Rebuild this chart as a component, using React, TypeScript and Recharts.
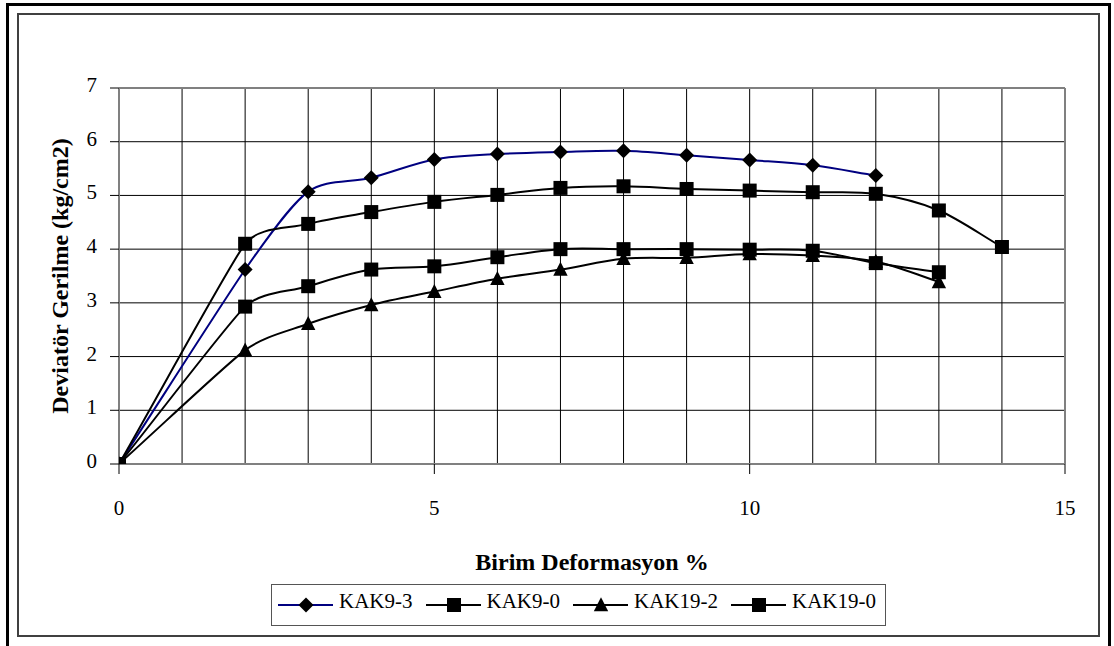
import React from 'react';
import { LineChart, Line, XAxis, YAxis, CartesianGrid, ReferenceLine, Label } from 'recharts';

// ---- data ----
const strain = [0, 2, 3, 4, 5, 6, 7, 8, 9, 10, 11, 12, 13, 14];
const kak9_3 = [0, 3.62, 5.07, 5.33, 5.67, 5.77, 5.81, 5.83, 5.75, 5.66, 5.56, 5.37, null, null];
const kak9_0 = [0, 4.1, 4.47, 4.69, 4.88, 5.01, 5.14, 5.17, 5.12, 5.09, 5.06, 5.03, 4.72, 4.04];
const kak19_2 = [0, 2.12, 2.61, 2.96, 3.21, 3.45, 3.62, 3.82, 3.84, 3.91, 3.88, 3.77, 3.39, null];
const kak19_0 = [0, 2.93, 3.31, 3.62, 3.68, 3.85, 4.0, 4.0, 4.0, 3.99, 3.97, 3.74, 3.57, null];

const seriesNames = ['KAK9-3', 'KAK9-0', 'KAK19-2', 'KAK19-0'];
const seriesColors = ['#000080', '#000000', '#000000', '#000000'];
const seriesShapes = ['diamond', 'square', 'triangle', 'square'];
const seriesValues = [kak9_3, kak9_0, kak19_2, kak19_0];

const xTicks = [0, 5, 10, 15];
const yTicks = [0, 1, 2, 3, 4, 5, 6, 7];
const xGrid = [1, 2, 3, 4, 5, 6, 7, 8, 9, 10, 11, 12, 13, 14];
const xTitle = 'Birim Deformasyon %';
const yTitle = 'Deviatör Gerilme (kg/cm2)';

const FONT = '"Liberation Serif", "DejaVu Serif", "Times New Roman", serif';

const data = strain.map((x, i) => {
  const row: any = { x };
  seriesValues.forEach((vals, s) => {
    row['s' + s] = vals[i];
  });
  return row;
});

// Excel-like smoothed line: Bezier segments, tangent direction from neighbours,
// control-arm length limited by the shorter of the two chords meeting at a point.
function excelSmooth(context: any) {
  let pts: number[][] = [];
  const unit = (dx: number, dy: number) => {
    const l = Math.hypot(dx, dy);
    return l > 0 ? [dx / l, dy / l] : [0, 0];
  };
  const dist = (a: number[], b: number[]) => Math.hypot(b[0] - a[0], b[1] - a[1]);
  return {
    areaStart() {},
    areaEnd() {},
    lineStart() {
      pts = [];
    },
    lineEnd() {
      const n = pts.length;
      if (n === 0) return;
      context.moveTo(pts[0][0], pts[0][1]);
      for (let i = 0; i < n - 1; i++) {
        const p0 = pts[Math.max(i - 1, 0)];
        const p1 = pts[i];
        const p2 = pts[i + 1];
        const p3 = pts[Math.min(i + 2, n - 1)];
        const d01 = dist(p0, p1);
        const d12 = dist(p1, p2);
        const d23 = dist(p2, p3);
        const armA = (i === 0 ? d12 : Math.min(d01, d12)) / 3;
        const armB = (i + 2 > n - 1 ? d12 : Math.min(d12, d23)) / 3;
        const t1 = unit(p2[0] - p0[0], p2[1] - p0[1]);
        const t2 = unit(p3[0] - p1[0], p3[1] - p1[1]);
        context.bezierCurveTo(
          p1[0] + t1[0] * armA,
          p1[1] + t1[1] * armA,
          p2[0] - t2[0] * armB,
          p2[1] - t2[1] * armB,
          p2[0],
          p2[1]
        );
      }
    },
    point(x: number, y: number) {
      pts.push([+x, +y]);
    },
  };
}

const Marker = ({ shape, cx, cy }: { shape: string; cx: number; cy: number }) => {
  if (shape === 'diamond') {
    return (
      <polygon
        points={`${cx},${cy - 7.5} ${cx + 7.5},${cy} ${cx},${cy + 7.5} ${cx - 7.5},${cy}`}
        fill="#000"
      />
    );
  }
  if (shape === 'square') {
    return <rect x={cx - 7} y={cy - 7} width={14} height={14} fill="#000" />;
  }
  return <polygon points={`${cx},${cy - 7.7} ${cx + 7.2},${cy + 6.3} ${cx - 7.2},${cy + 6.3}`} fill="#000" />;
};

const makeDot = (shape: string, sIdx: number) => (props: any) => {
  const { cx, cy, index, value } = props;
  const key = `dot-${sIdx}-${index}`;
  if (value == null || !Number.isFinite(cx) || !Number.isFinite(cy)) return <g key={key} />;
  return (
    <g key={key}>
      <Marker shape={shape} cx={cx} cy={cy} />
    </g>
  );
};

const XTick = (props: any) => {
  const { x, y, payload } = props;
  return (
    <text x={x} y={y + 41} textAnchor="middle" fontSize={21} style={{ fontFamily: FONT }} fill="#000">
      {payload.value}
    </text>
  );
};

const YTick = (props: any) => {
  const { x, y, payload } = props;
  return (
    <text x={x} y={y + 4} textAnchor="end" fontSize={21} style={{ fontFamily: FONT }} fill="#000">
      {payload.value}
    </text>
  );
};

const XTitle = (props: any) => {
  const vb = props.viewBox || { x: 119, y: 464, width: 946, height: 40 };
  return (
    <text
      x={vb.x + vb.width / 2}
      y={vb.y + 106}
      textAnchor="middle"
      fontSize={24}
      fontWeight="bold"
      style={{ fontFamily: FONT }}
      fill="#000"
    >
      {xTitle}
    </text>
  );
};

const YTitle = (props: any) => {
  const vb = props.viewBox || { x: 59, y: 88, width: 60, height: 376 };
  const cx = vb.x + 8.5;
  const cy = vb.y + vb.height / 2;
  return (
    <text
      x={cx}
      y={cy}
      transform={`rotate(-90, ${cx}, ${cy})`}
      textAnchor="middle"
      fontSize={24}
      fontWeight="bold"
      style={{ fontFamily: FONT }}
      fill="#000"
    >
      {yTitle}
    </text>
  );
};

const LegendMarker = ({ shape, color }: { shape: string; color: string }) => (
  <svg width={55} height={20} style={{ display: 'block' }}>
    <line x1={0} y1={10} x2={55} y2={10} stroke={color} strokeWidth={2} />
    <Marker shape={shape} cx={28} cy={10} />
  </svg>
);

export default function App() {
  return (
    <div
      style={{
        position: 'absolute',
        left: 0,
        top: 0,
        width: 1114,
        height: 646,
        overflow: 'hidden',
        background: '#fff',
        fontFamily: FONT,
      }}
    >
      {/* outer frame */}
      <div
        style={{
          position: 'absolute',
          left: 6,
          top: 3,
          width: 1105,
          height: 700,
          border: '3px solid #000',
          boxSizing: 'border-box',
        }}
      />
      {/* chart area frame */}
      <div
        style={{
          position: 'absolute',
          left: 17,
          top: 13,
          width: 1083,
          height: 624,
          border: '2px solid #404040',
          boxSizing: 'border-box',
        }}
      />
      <div style={{ position: 'absolute', left: 0, top: 0 }}>
        <LineChart
          width={1114}
          height={646}
          data={data}
          margin={{ top: 88, right: 49, bottom: 142, left: 59 }}
          style={{ fontFamily: FONT }}
        >
          <CartesianGrid horizontal vertical={false} stroke="#000" strokeWidth={1} />
          {xGrid.map((v) => (
            <ReferenceLine key={'vg' + v} x={v} stroke="#000" strokeWidth={1} />
          ))}
          <ReferenceLine y={7} stroke="#808080" strokeWidth={2} />
          <ReferenceLine x={15} stroke="#808080" strokeWidth={2} />
          <XAxis
            dataKey="x"
            type="number"
            domain={[0, 15]}
            ticks={xTicks}
            interval={0}
            height={40}
            tickSize={10}
            tickMargin={0}
            axisLine={{ stroke: '#808080', strokeWidth: 2 }}
            tickLine={{ stroke: '#000', strokeWidth: 1 }}
            tick={<XTick />}
            allowDataOverflow
          >
            <Label content={<XTitle />} />
          </XAxis>
          <YAxis
            type="number"
            domain={[0, 7]}
            ticks={yTicks}
            interval={0}
            width={60}
            tickSize={9}
            tickMargin={13}
            axisLine={{ stroke: '#808080', strokeWidth: 2 }}
            tickLine={{ stroke: '#000', strokeWidth: 1 }}
            tick={<YTick />}
            allowDataOverflow
          >
            <Label content={<YTitle />} />
          </YAxis>
          {seriesNames.map((name, s) => (
            <Line
              key={name}
              name={name}
              dataKey={'s' + s}
              type={excelSmooth as any}
              stroke={seriesColors[s]}
              strokeWidth={2}
              dot={makeDot(seriesShapes[s], s)}
              activeDot={false}
              connectNulls={false}
              isAnimationActive={false}
            />
          ))}
        </LineChart>
      </div>
      {/* legend */}
      <div
        style={{
          position: 'absolute',
          left: 271,
          top: 584,
          width: 615,
          height: 42,
          border: '1px solid #555',
          boxSizing: 'border-box',
          display: 'flex',
          alignItems: 'center',
          paddingLeft: 6,
          gap: 13,
          background: '#fff',
        }}
      >
        {seriesNames.map((name, s) => (
          <div key={name} style={{ display: 'flex', alignItems: 'center' }}>
            <LegendMarker shape={seriesShapes[s]} color={seriesColors[s]} />
            <span
              style={{
                marginLeft: 6,
                fontSize: 21,
                lineHeight: '21px',
                position: 'relative',
                top: -4,
                color: '#000',
                whiteSpace: 'nowrap',
                fontFamily: FONT,
              }}
            >
              {name}
            </span>
          </div>
        ))}
      </div>
    </div>
  );
}
